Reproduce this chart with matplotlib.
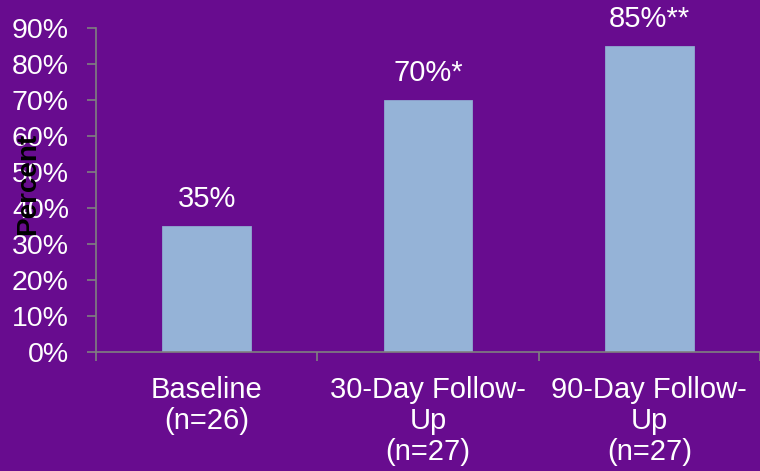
import matplotlib
matplotlib.use('Agg')
import matplotlib.pyplot as plt

categories = ['Baseline\n(n=26)', '30-Day Follow-\nUp\n(n=27)', '90-Day Follow-\nUp\n(n=27)']
percent = [35, 70, 85]
bar_labels = ['35%', '70%*', '85%**']
y_ticks = [0, 10, 20, 30, 40, 50, 60, 70, 80, 90]

plt.rcParams['font.family'] = ['Liberation Sans', 'DejaVu Sans']

bg = '#680C8F'
fig = plt.figure(figsize=(7.6, 4.71), dpi=100, facecolor=bg)
ax = fig.add_axes([0.1263, 0.2527, 0.8737, 0.688], facecolor=bg)

x = range(len(categories))
bars = ax.bar(x, percent, width=0.4, color='#95B3D7', edgecolor='#8FA8D0', linewidth=0.6)

for b, lab in zip(bars, bar_labels):
    ax.annotate(lab, (b.get_x() + b.get_width() / 2, b.get_height()),
                xytext=(0, 9), textcoords='offset points',
                ha='center', va='bottom', color='white', fontsize=21)

ax.set_xlim(-0.5, 2.5)
ax.set_ylim(0, 90)
ax.set_yticks(y_ticks)
ax.set_yticklabels([f'{t}%' for t in y_ticks])
ax.set_xticks(list(x))
ax.set_xticklabels(categories, linespacing=1.15)
ax.set_xticks([-0.5, 0.5, 1.5, 2.5], minor=True)

for s in ['top', 'right']:
    ax.spines[s].set_visible(False)
for s in ['left', 'bottom']:
    ax.spines[s].set_color('#808080')
    ax.spines[s].set_linewidth(1.2)

ax.tick_params(axis='y', colors='#808080', labelcolor='white', labelsize=20.5,
               length=6.5, width=1.2, pad=13)
ax.tick_params(axis='x', which='major', length=0, labelcolor='white', labelsize=21, pad=17)
ax.tick_params(axis='x', which='minor', colors='#808080', length=6.5, width=1.2)

ax.set_ylabel('Percent', fontsize=20, fontweight='bold', color='black')
ax.yaxis.set_label_coords(-0.083, 0.52)

plt.savefig('out.png', dpi=100, facecolor=bg)
